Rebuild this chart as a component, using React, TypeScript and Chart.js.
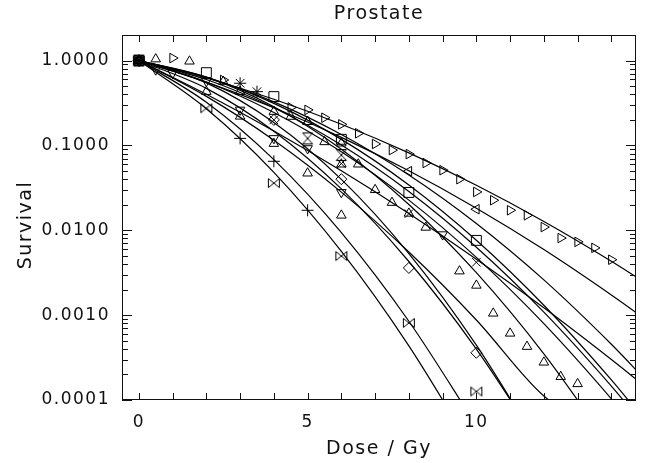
import React, { useEffect, useRef } from 'react';
import { Chart, registerables } from 'chart.js';

Chart.register(...registerables);

// ---- axis ticks ----
const X_TICKS = [0, 5, 10];
const X_MINOR = [0, 1, 2, 3, 4, 5, 6, 7, 8, 9, 10, 11, 12, 13, 14];
const Y_TICKS = [0.0001, 0.001, 0.01, 0.1, 1];
const Y_TICK_LABELS = ['0.0001', '0.0010', '0.0100', '0.1000', '1.0000'];

// ---- fitted survival curves (values read at these doses) ----
const FIT_DOSE = [0, 2, 4, 6, 8, 10, 12, 14, 15];
const fitRight = [1, 0.622, 0.35, 0.1778, 0.0817, 0.0339, 0.0127, 0.00431, 0.00241];
const fitLeft = [1, 0.556, 0.2774, 0.1245, 0.0502, 0.0182, 0.00593, 0.00173, 0.000902];
const fitSquare = [1, 0.6375, 0.3125, 0.1178, 0.0342, 0.00762, 0.001307, 0.0001725, 0.0000568];
const fitCross = [1, 0.4003, 0.1478, 0.0503, 0.01579, 0.00457, 0.00122, 0.0003, 0.0001445];
const fitStar = [1, 0.6356, 0.3257, 0.1345, 0.0448, 0.01202, 0.002602, 0.0004537, 0.0001748];
const fitHour = [1, 0.5587, 0.2447, 0.0841, 0.02265, 0.004786, 0.0007925, 0.000103, 0.0000339];
const fitUp2 = [1, 0.597, 0.278, 0.1009, 0.02858, 0.00631, 0.001086, 0.0001459, 0.0000487];
const fitUp = [1, 0.6368, 0.2858, 0.09036, 0.02014, 0.003162, 0.00035, 0.0000273];
const fitDown = [1, 0.3784, 0.1151, 0.02818, 0.005544, 0.000877, 0.0001115, 0.0000366];
const fitDiamond = [1, 0.5461, 0.1864, 0.03978, 0.005305, 0.0004426, 0.0000231];
const fitUp3 = [1, 0.4699, 0.1472, 0.03076, 0.004285, 0.000398, 0.0000247];
const fitPlus = [1, 0.3221, 0.06792, 0.009376, 0.000847, 0.0000501];
const fitBowtie = [1, 0.2703, 0.04808, 0.005631, 0.000434, 0.000022];

// ---- measured points ----
const rightDose = [0, 1, 2.5, 4.5, 5, 5.5, 6, 6.5, 7, 7.5, 8, 8.5, 9, 9.5, 10, 10.5, 11, 11.5, 12, 12.5, 13, 13.5, 14];
const rightSurv = [1.0, 1.07, 0.59, 0.28, 0.262, 0.212, 0.177, 0.139, 0.104, 0.088, 0.079, 0.062, 0.051, 0.04, 0.0283, 0.0226, 0.0172, 0.015, 0.0109, 0.0081, 0.0073, 0.0062, 0.0045];
const leftDose = [0, 8, 10];
const leftSurv = [1.0, 0.0497, 0.0177];
const squareDose = [0, 2, 4, 6, 8, 10];
const squareSurv = [1.0, 0.72, 0.376, 0.118, 0.0279, 0.0076];
const crossDose = [0, 4, 6, 8, 10];
const crossSurv = [1.0, 0.2, 0.061, 0.0157, 0.0042];
const starDose = [0, 3, 3.5];
const starSurv = [1.0, 0.54, 0.43];
const upDose = [0, 0.5, 1.5, 2.5, 3, 4, 4.5, 5, 5.5, 6, 6.5, 7, 7.5, 8, 8.5, 9.5, 10, 10.5, 11, 11.5, 12, 12.5, 13];
const upSurv = [1.0, 1.04, 0.98, 0.565, 0.43, 0.25, 0.219, 0.19, 0.11, 0.06, 0.06, 0.03, 0.0212, 0.0158, 0.0108, 0.0033, 0.00224, 0.00105, 0.00061, 0.000426, 0.000278, 0.000188, 0.000155];
const downDose = [0, 0.5, 1, 2, 3, 4, 5, 6, 9];
const downSurv = [1.0, 0.78, 0.71, 0.57, 0.262, 0.121, 0.092, 0.028, 0.0089];
const diamondDose = [0, 4, 6, 8, 10];
const diamondSurv = [1.0, 0.2, 0.04, 0.0036, 0.00036];
const up3Dose = [0, 2, 3, 4, 5, 6];
const up3Surv = [1.0, 0.43, 0.22, 0.105, 0.047, 0.015];
const plusDose = [0, 3, 4, 5];
const plusSurv = [1.0, 0.121, 0.065, 0.0172];
const bowtieDose = [0, 2, 4, 6, 8, 10];
const bowtieSurv = [1.0, 0.274, 0.036, 0.00497, 0.00081, 0.000126];
const up2Dose = [0, 5, 6];
const up2Surv = [1.0, 0.19, 0.106];
const hourDose = [0, 5, 6];
const hourSurv = [1.0, 0.121, 0.077];

function makeGlyph(kind: 'bowtie' | 'hourglass'): HTMLCanvasElement {
  const c = document.createElement('canvas');
  c.width = 14;
  c.height = 14;
  const g = c.getContext('2d')!;
  g.strokeStyle = '#000';
  g.lineWidth = 1;
  g.beginPath();
  if (kind === 'bowtie') {
    g.moveTo(1.5, 2.5); g.lineTo(7, 7); g.lineTo(1.5, 11.5); g.closePath();
    g.moveTo(12.5, 2.5); g.lineTo(7, 7); g.lineTo(12.5, 11.5); g.closePath();
  } else {
    g.moveTo(2, 1.5); g.lineTo(12, 1.5); g.lineTo(7, 7); g.closePath();
    g.moveTo(2, 12.5); g.lineTo(12, 12.5); g.lineTo(7, 7); g.closePath();
  }
  g.stroke();
  return c;
}

const pts = (xs: number[], ys: number[]) => xs.map((x, i) => ({ x, y: ys[i] }));
const fit = (ys: number[]) => ys.map((y, i) => ({ x: FIT_DOSE[i], y }));

const framePlugin = {
  id: 'idlFrame',
  beforeDraw(chart: any) {
    (chart.ctx as any).letterSpacing = '1.5px';
  },
  afterDatasetsDraw(chart: any) {
    const { ctx, chartArea: a, scales } = chart;
    const xs = scales.x;
    const ys = scales.y;
    ctx.save();
    ctx.strokeStyle = '#111';
    ctx.lineWidth = 1;
    ctx.strokeRect(a.left + 0.5, a.top + 0.5, a.right - a.left - 1, a.bottom - a.top - 1);
    ctx.beginPath();
    for (const v of X_MINOR) {
      const px = Math.round(xs.getPixelForValue(v)) + 0.5;
      ctx.moveTo(px, a.bottom);
      ctx.lineTo(px, a.bottom - 7);
      ctx.moveTo(px, a.top);
      ctx.lineTo(px, a.top + 7);
    }
    for (const dec of Y_TICKS) {
      for (let m = 1; m <= 9; m++) {
        const v = dec * m;
        if (v > ys.max || v < ys.min) continue;
        const len = m === 1 ? 10 : 6;
        const py = Math.round(ys.getPixelForValue(v)) + 0.5;
        ctx.moveTo(a.left, py);
        ctx.lineTo(a.left + len, py);
        ctx.moveTo(a.right, py);
        ctx.lineTo(a.right - len, py);
      }
    }
    ctx.stroke();
    ctx.restore();
  },
};

export default function App() {
  const ref = useRef<HTMLCanvasElement | null>(null);

  useEffect(() => {
    document.body.style.margin = '0';
    const canvas = ref.current;
    if (!canvas) return;
    const bowtie = makeGlyph('bowtie');
    const hourglass = makeGlyph('hourglass');

    const lineDs = (ys: number[]) => ({
      data: fit(ys),
      borderColor: '#000',
      borderWidth: 1.2,
      pointRadius: 0,
      cubicInterpolationMode: 'monotone' as const,
      fill: false,
    });
    const markDs = (xs: number[], ys: number[], style: any, radius: number, rotation = 0) => ({
      data: pts(xs, ys),
      showLine: false,
      pointStyle: style,
      pointRadius: radius,
      pointRotation: rotation,
      pointBorderColor: '#000',
      pointBackgroundColor: 'rgba(0,0,0,0)',
      pointBorderWidth: 1,
    });

    const chart = new Chart(canvas, {
      type: 'line',
      data: {
        datasets: [
          lineDs(fitRight),
          lineDs(fitLeft),
          lineDs(fitSquare),
          lineDs(fitCross),
          lineDs(fitStar),
          lineDs(fitHour),
          lineDs(fitUp2),
          lineDs(fitUp),
          lineDs(fitDown),
          lineDs(fitDiamond),
          lineDs(fitUp3),
          lineDs(fitPlus),
          lineDs(fitBowtie),
          markDs(rightDose, rightSurv, 'triangle', 5.5, 90),
          markDs(leftDose, leftSurv, 'triangle', 5.5, 270),
          markDs(squareDose, squareSurv, 'rect', 7),
          markDs(crossDose, crossSurv, 'crossRot', 6),
          markDs(starDose, starSurv, 'star', 6),
          markDs(upDose, upSurv, 'triangle', 5.5, 0),
          markDs(downDose, downSurv, 'triangle', 5.5, 180),
          markDs(diamondDose, diamondSurv, 'rectRot', 5.5),
          markDs(up3Dose, up3Surv, 'triangle', 5.5, 0),
          markDs(plusDose, plusSurv, 'cross', 6),
          markDs(bowtieDose, bowtieSurv, bowtie, 7),
          markDs(up2Dose, up2Surv, 'triangle', 5.5, 0),
          markDs(hourDose, hourSurv, hourglass, 7),
        ] as any,
      },
      options: {
        responsive: false,
        animation: false,
        devicePixelRatio: 1,
        layout: { padding: { left: 0, right: 9, top: 0, bottom: 0 } },
        font: { family: "'DejaVu Sans', sans-serif" } as any,
        plugins: {
          legend: { display: false },
          tooltip: { enabled: false },
          title: {
            display: true,
            text: 'Prostate',
            fullSize: false,
            color: '#111',
            font: { family: "'DejaVu Sans', sans-serif", size: 19, weight: 'normal' },
            padding: { top: 3, bottom: 9.2 },
          },
        },
        scales: {
          x: {
            type: 'linear',
            min: -0.5,
            max: 14.73,
            afterFit: (s: any) => { s.height = 63; },
            afterBuildTicks: (s: any) => { s.ticks = X_TICKS.map((v) => ({ value: v })); },
            ticks: {
              autoSkip: false,
              maxRotation: 0,
              padding: 12,
              color: '#111',
              font: { family: "'DejaVu Sans', sans-serif", size: 17 },
              callback: (v: any) => String(v),
            },
            grid: { display: false, drawTicks: false },
            border: { display: false },
            title: {
              display: true,
              text: 'Dose / Gy',
              color: '#111',
              font: { family: "'DejaVu Sans', sans-serif", size: 19 },
              padding: { top: 0, bottom: 3 },
            },
          },
          y: {
            type: 'logarithmic',
            min: 0.0001,
            max: 2.0,
            afterFit: (s: any) => { s.width = 122; },
            afterBuildTicks: (s: any) => { s.ticks = Y_TICKS.map((v) => ({ value: v })); },
            ticks: {
              autoSkip: false,
              padding: 12,
              color: '#111',
              font: { family: "'DejaVu Sans', sans-serif", size: 17 },
              callback: (_v: any, i: number) => Y_TICK_LABELS[i],
            },
            grid: { display: false, drawTicks: false },
            border: { display: false },
            title: {
              display: true,
              text: 'Survival  ',
              color: '#111',
              font: { family: "'DejaVu Sans', sans-serif", size: 19 },
              padding: { top: 15, bottom: 0 },
            },
          },
        },
      },
      plugins: [framePlugin],
    } as any);

    return () => chart.destroy();
  }, []);

  return (
    <canvas
      ref={ref}
      width={645}
      height={463}
      style={{ display: 'block', width: 645, height: 463 }}
    />
  );
}
